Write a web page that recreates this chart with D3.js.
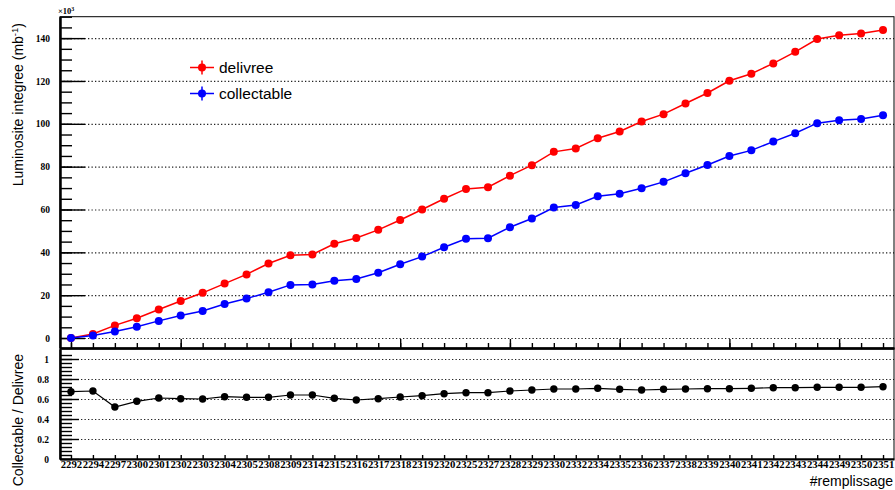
<!DOCTYPE html>
<html>
<head>
<meta charset="utf-8">
<script src="https://cdn.jsdelivr.net/npm/d3@7"></script>
<style>
  body { margin: 0; background: #fff; }
  svg { display: block; }
  .tick text { font-family: "Liberation Serif", "Times New Roman", serif; font-weight: bold; }
  .grid line { stroke: #222; stroke-dasharray: 1.3,2.2; stroke-width: 1.2; }
  .grid path { display: none; }
</style>
</head>
<body>
<svg id="chart" width="895" height="490"></svg>
<script>
// numero de remplissage (fill number)
const fills = ["2292", "2294", "2297", "2300", "2301", "2302", "2303", "2304", "2305", "2308",
  "2309", "2314", "2315", "2316", "2317", "2318", "2319", "2320", "2325", "2327",
  "2328", "2329", "2330", "2332", "2334", "2335", "2336", "2337", "2338", "2339",
  "2340", "2341", "2342", "2343", "2344", "2349", "2350", "2351"];

// luminosite integree, x10^3 mb-1
const delivree = [0, 1.9, 5.9, 9.2, 13.3, 17.3, 21.1, 25.4, 29.7, 34.8,
  38.6, 39.0, 44.0, 46.7, 50.5, 55.1, 60.0, 65.0, 69.6, 70.4,
  75.8, 80.7, 86.9, 88.5, 93.3, 96.4, 101.1, 104.5, 109.5, 114.4,
  120.1, 123.4, 128.2, 133.6, 139.6, 141.3, 142.2, 143.8];

const collectable = [0, 1.2, 3.0, 5.3, 8.0, 10.5, 12.6, 15.9, 18.4, 21.4,
  24.8, 25.0, 26.7, 27.6, 30.5, 34.4, 38.0, 42.4, 46.3, 46.6,
  51.7, 55.8, 60.9, 62.1, 66.2, 67.4, 69.9, 72.9, 76.9, 80.8,
  85.0, 87.6, 91.7, 95.6, 100.3, 101.7, 102.3, 104.0];

// collectable / delivree
const ratio = [0.673, 0.68, 0.52, 0.577, 0.61, 0.603, 0.60, 0.623, 0.617, 0.617,
  0.64, 0.64, 0.607, 0.59, 0.603, 0.62, 0.633, 0.653, 0.663, 0.663,
  0.68, 0.69, 0.70, 0.70, 0.707, 0.697, 0.69, 0.697, 0.70, 0.703,
  0.703, 0.707, 0.713, 0.713, 0.717, 0.717, 0.717, 0.723];

const topTicks = [0, 20, 40, 60, 80, 100, 120, 140];
const ratioTicks = [0, 0.2, 0.4, 0.6, 0.8, 1];

const svg = d3.select("#chart");
const left = 60, right = 894;
const top1 = 16.7, bot1 = 348, top2 = 349, bot2 = 459;

const x = d3.scalePoint().domain(fills).range([left, right]).padding(0.5);
const y = d3.scaleLinear().domain([-4.66, 150]).range([bot1, top1]);
const yr = d3.scaleLinear().domain([0, 1.1]).range([bot2, top2]);

// ---- grids
svg.append("g").attr("class", "grid")
  .attr("transform", `translate(${left},0)`)
  .call(d3.axisLeft(y).tickValues(topTicks).tickSize(-(right - left)).tickFormat(""));
svg.append("g").attr("class", "grid")
  .attr("transform", `translate(${left},0)`)
  .call(d3.axisLeft(yr).tickValues(ratioTicks.filter(d => d > 0)).tickSize(-(right - left)).tickFormat(""));

// ---- frames
svg.append("rect").attr("x", left).attr("y", top1).attr("width", right - left).attr("height", bot1 - top1)
  .attr("fill", "none").attr("stroke", "#000");
svg.append("rect").attr("x", left).attr("y", top2).attr("width", right - left).attr("height", bot2 - top2)
  .attr("fill", "none").attr("stroke", "#000");

function styleAxis(g, w) {
  g.select(".domain").attr("stroke-width", w);
  g.selectAll(".tick line").attr("stroke-width", 1.4);
}

// ---- top y axis
svg.append("g")
  .attr("transform", `translate(${left},0)`)
  .call(d3.axisLeft(y).tickValues(d3.range(0, 151, 5)).tickSize(-12).tickSizeOuter(0).tickFormat(""))
  .call(g => styleAxis(g, 2));
svg.append("g")
  .attr("transform", `translate(${left},0)`)
  .call(d3.axisLeft(y).tickValues(topTicks).tickSize(-25).tickSizeOuter(0).tickPadding(10))
  .call(g => styleAxis(g, 2))
  .call(g => g.selectAll(".tick text").attr("font-size", 9.5).attr("fill", "#000"));

// ---- bottom y axis
svg.append("g")
  .attr("transform", `translate(${left},0)`)
  .call(d3.axisLeft(yr).tickValues(d3.range(0, 27).map(i => i * 0.04)).tickSize(-12).tickSizeOuter(0).tickFormat(""))
  .call(g => styleAxis(g, 2));
svg.append("g")
  .attr("transform", `translate(${left},0)`)
  .call(d3.axisLeft(yr).tickValues(ratioTicks).tickSize(-19).tickSizeOuter(0).tickPadding(11)
    .tickFormat(d => d === 0 || d === 1 ? d3.format("d")(d) : d3.format(".1f")(d)))
  .call(g => styleAxis(g, 2))
  .call(g => g.selectAll(".tick text").attr("font-size", 9.5).attr("fill", "#000"));

// ---- x axes
svg.append("g")
  .attr("transform", `translate(0,${bot1})`)
  .call(d3.axisBottom(x).tickSize(-5).tickSizeOuter(0).tickFormat(""))
  .call(g => styleAxis(g, 2));
svg.append("g")
  .attr("transform", `translate(0,${bot1})`)
  .call(d3.axisBottom(x).tickValues(fills.filter((d, i) => i % 5 === 0)).tickSize(-9).tickSizeOuter(0).tickFormat(""))
  .call(g => styleAxis(g, 2));
svg.append("g")
  .attr("transform", `translate(0,${bot2})`)
  .call(d3.axisBottom(x).tickSize(-4).tickSizeOuter(0).tickPadding(2))
  .call(g => styleAxis(g, 2))
  .call(g => g.selectAll(".tick text")
    .attr("font-size", 9.5).attr("fill", "#000")
    .attr("textLength", 21.5).attr("lengthAdjust", "spacingAndGlyphs"));

// ---- series
const line = d3.line().x((d, i) => x(fills[i])).y(d => y(d));
const series = [
  { name: "delivree", values: delivree, color: "#ff0000" },
  { name: "collectable", values: collectable, color: "#0000ff" }
];
series.forEach(s => {
  svg.append("path").datum(s.values)
    .attr("d", line).attr("fill", "none").attr("stroke", s.color).attr("stroke-width", 1.5);
  svg.append("g").selectAll("circle").data(s.values).enter().append("circle")
    .attr("cx", (d, i) => x(fills[i])).attr("cy", d => y(d)).attr("r", 4)
    .attr("fill", s.color);
});

const lineR = d3.line().x((d, i) => x(fills[i])).y(d => yr(d));
svg.append("path").datum(ratio)
  .attr("d", lineR).attr("fill", "none").attr("stroke", "#000").attr("stroke-width", 1.2);
svg.append("g").selectAll("circle").data(ratio).enter().append("circle")
  .attr("cx", (d, i) => x(fills[i])).attr("cy", d => yr(d)).attr("r", 3.7)
  .attr("fill", "#000");

// ---- legend
const legend = svg.append("g").attr("transform", "translate(190,67.5)");
series.forEach((s, i) => {
  const g = legend.append("g").attr("transform", `translate(0,${i * 26})`);
  g.append("line").attr("x1", 0).attr("x2", 24).attr("stroke", s.color).attr("stroke-width", 1.5);
  g.append("line").attr("x1", 12).attr("x2", 12).attr("y1", -7).attr("y2", 7).attr("stroke", s.color).attr("stroke-width", 1.5);
  g.append("circle").attr("cx", 12).attr("r", 4).attr("fill", s.color);
  g.append("text").attr("x", 29).attr("y", 5.5)
    .attr("font-family", "Liberation Sans, Arial, sans-serif").attr("font-size", 15.5)
    .text(s.name);
});

// ---- titles
svg.append("text")
  .attr("transform", "translate(23,23) rotate(-90)")
  .attr("text-anchor", "end")
  .attr("font-family", "Liberation Sans, Arial, sans-serif").attr("font-size", 14)
  .call(t => {
    t.append("tspan").text("Luminosite integree (mb");
    t.append("tspan").attr("dy", -5).attr("font-size", 9.5).text("-1");
    t.append("tspan").attr("dy", 5).text(")");
  });

svg.append("text")
  .attr("transform", "translate(23,354) rotate(-90)")
  .attr("text-anchor", "end")
  .attr("font-family", "Liberation Sans, Arial, sans-serif").attr("font-size", 14)
  .text("Collectable / Delivree");

svg.append("text")
  .attr("x", 893).attr("y", 486)
  .attr("text-anchor", "end")
  .attr("font-family", "Liberation Sans, Arial, sans-serif").attr("font-size", 14)
  .text("#remplissage");

svg.append("text")
  .attr("x", 58).attr("y", 14)
  .attr("font-family", "Liberation Serif, Times New Roman, serif").attr("font-weight", "bold").attr("font-size", 8.5)
  .call(t => {
    t.append("tspan").text("\u00d710");
    t.append("tspan").attr("dy", -3).attr("font-size", 6).text("3");
  });
</script>
</body>
</html>
